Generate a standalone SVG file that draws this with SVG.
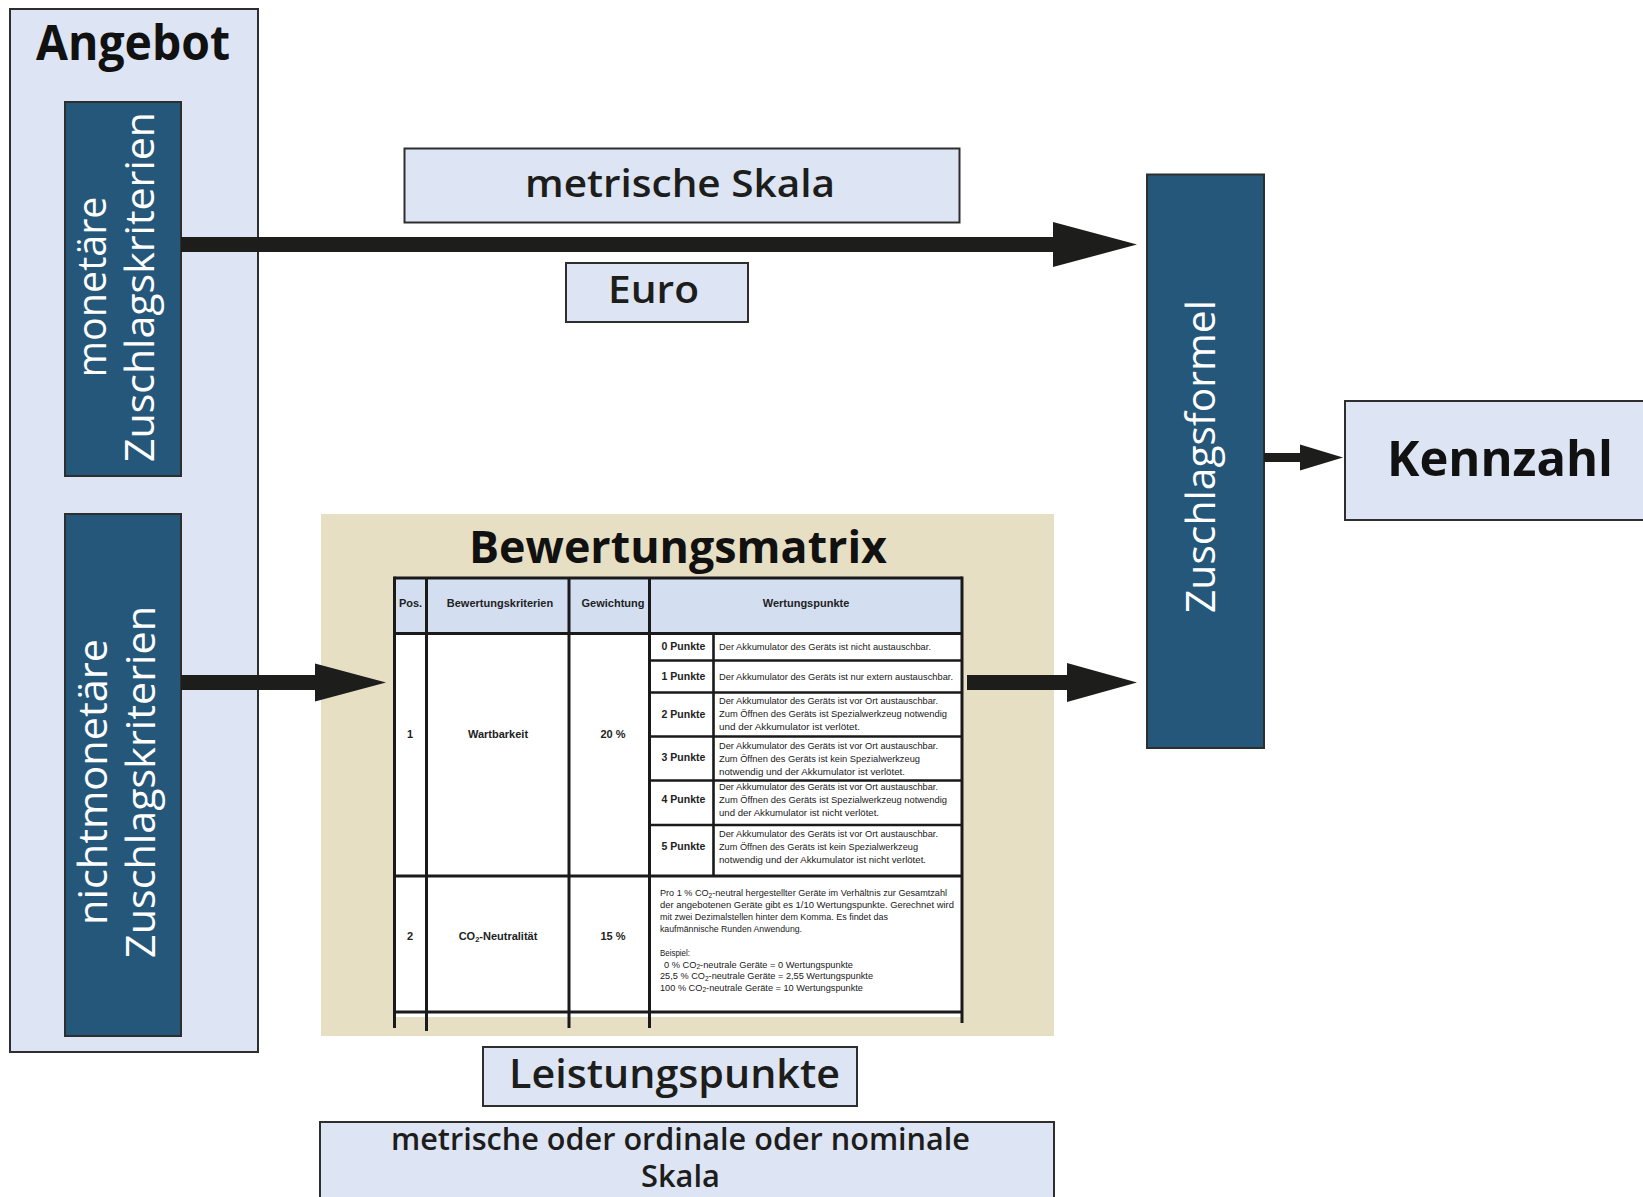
<svg xmlns="http://www.w3.org/2000/svg" width="1643" height="1197" viewBox="0 0 1643 1197">
<style>
.lb{fill:#dde4f4;stroke:#2e2e2e;stroke-width:2}
.dk{fill:#25577a;stroke:#2e2e2e;stroke-width:2}
.beige{fill:#e6dfc3}
.lbl{font-family:"Open Sans","Liberation Sans",sans-serif;font-weight:600;fill:#1d1d1b;text-anchor:middle}
.ttl{font-family:"Open Sans","Liberation Sans",sans-serif;font-weight:700;fill:#111;text-anchor:middle}
.vert{font-family:"Open Sans","Liberation Sans",sans-serif;font-weight:400;fill:#ffffff;font-size:40px;text-anchor:middle}
.tl{stroke:#1a1a1a;stroke-width:3;fill:none}
.ts{stroke:#1a1a1a;stroke-width:2.6;fill:none}
.th{font-family:"Liberation Sans",Arial,sans-serif;font-weight:700;font-size:11px;fill:#222;text-anchor:middle}
.tp{font-family:"Liberation Sans",Arial,sans-serif;font-weight:700;font-size:10.5px;fill:#222;text-anchor:middle}
.td{font-family:"Liberation Sans",Arial,sans-serif;font-weight:400;font-size:9px;fill:#1a1a1a}
.arrow{fill:#1d1d1b}
</style>

<g id="angebot">
<rect class="lb" x="10" y="9" width="248" height="1043"/>
<text class="ttl" x="133" y="60" font-size="48" textLength="194" lengthAdjust="spacingAndGlyphs">Angebot</text>
</g>

<g id="monetaere">
<rect class="dk" x="65" y="102" width="116" height="374"/>
<text class="vert" transform="translate(123,287) rotate(-90)"><tspan x="0" y="-17" textLength="181" lengthAdjust="spacingAndGlyphs">monetäre</tspan><tspan x="0" y="31" textLength="350" lengthAdjust="spacingAndGlyphs">Zuschlagskriterien</tspan></text>
</g>

<g id="nichtmonetaere">
<rect class="dk" x="65" y="514" width="116" height="522"/>
<text class="vert" transform="translate(123,782) rotate(-90)"><tspan x="0" y="-16" textLength="286" lengthAdjust="spacingAndGlyphs">nichtmonetäre</tspan><tspan x="0" y="32" textLength="352" lengthAdjust="spacingAndGlyphs">Zuschlagskriterien</tspan></text>
</g>

<g id="metrische-skala">
<rect class="lb" x="404.5" y="148.5" width="555" height="74"/>
<text class="lbl" x="680" y="197" font-size="38" textLength="310" lengthAdjust="spacingAndGlyphs">metrische Skala</text>
</g>

<g id="euro">
<rect class="lb" x="566" y="263" width="182" height="59"/>
<text class="lbl" x="653.5" y="303" font-size="37" textLength="91" lengthAdjust="spacingAndGlyphs">Euro</text>
</g>

<g id="zuschlagsformel">
<rect class="dk" x="1147" y="174.5" width="117" height="573.5"/>
<text class="vert" transform="translate(1205.5,456.5) rotate(-90)" x="0" y="9.5" textLength="313" lengthAdjust="spacingAndGlyphs">Zuschlagsformel</text>
</g>

<g id="kennzahl">
<rect class="lb" x="1345" y="401" width="320" height="119"/>
<text class="ttl" x="1500" y="476" font-size="48" textLength="226" lengthAdjust="spacingAndGlyphs">Kennzahl</text>
</g>

<g id="bewertungsmatrix">
<rect class="beige" x="321" y="514" width="733" height="522"/>
<text class="ttl" x="678" y="563" font-size="45" textLength="418" lengthAdjust="spacingAndGlyphs">Bewertungsmatrix</text>
<rect x="394.5" y="578" width="567.5" height="439" fill="#ffffff"/>
<rect x="394.5" y="578" width="567.5" height="55.5" fill="#d3dff1"/>
<g>
<path class="tl" d="M394.5,578 H962 M394.5,633.5 H962 M394.5,876 H962 M394.5,1012 H962"/>
<path class="tl" d="M394.5,576.5 V1028 M426.5,578 V1031 M569,578 V1028 M649.5,578 V1028 M962,576.5 V1023"/>
<path class="ts" d="M713.5,633.5 V876 M649.5,660.5 H962 M649.5,692.5 H962 M649.5,736.5 H962 M649.5,780.5 H962 M649.5,825 H962"/>
</g>
<text class="th" x="410.5" y="607">Pos.</text>
<text class="th" x="500" y="607">Bewertungskriterien</text>
<text class="th" x="613" y="607">Gewichtung</text>
<text class="th" x="806" y="607">Wertungspunkte</text>

<text class="th" x="410" y="738">1</text>
<text class="th" x="498" y="738">Wartbarkeit</text>
<text class="th" x="613" y="738">20 %</text>

<text class="tp" x="683.5" y="650">0 Punkte</text>
<text class="tp" x="683.5" y="680">1 Punkte</text>
<text class="tp" x="683.5" y="718">2 Punkte</text>
<text class="tp" x="683.5" y="761">3 Punkte</text>
<text class="tp" x="683.5" y="803">4 Punkte</text>
<text class="tp" x="683.5" y="850">5 Punkte</text>

<text class="td" x="719" y="650" textLength="212" lengthAdjust="spacingAndGlyphs">Der Akkumulator des Geräts ist nicht austauschbar.</text>
<text class="td" x="719" y="680" textLength="234" lengthAdjust="spacingAndGlyphs">Der Akkumulator des Geräts ist nur extern austauschbar.</text>

<text class="td" x="719" y="704" textLength="219" lengthAdjust="spacingAndGlyphs">Der Akkumulator des Geräts ist vor Ort austauschbar.</text>
<text class="td" x="719" y="717" textLength="228" lengthAdjust="spacingAndGlyphs">Zum Öffnen des Geräts ist Spezialwerkzeug notwendig</text>
<text class="td" x="719" y="730" textLength="141" lengthAdjust="spacingAndGlyphs">und der Akkumulator ist verlötet.</text>

<text class="td" x="719" y="749" textLength="219" lengthAdjust="spacingAndGlyphs">Der Akkumulator des Geräts ist vor Ort austauschbar.</text>
<text class="td" x="719" y="762" textLength="201" lengthAdjust="spacingAndGlyphs">Zum Öffnen des Geräts ist kein Spezialwerkzeug</text>
<text class="td" x="719" y="775" textLength="186" lengthAdjust="spacingAndGlyphs">notwendig und der Akkumulator ist verlötet.</text>

<text class="td" x="719" y="790" textLength="219" lengthAdjust="spacingAndGlyphs">Der Akkumulator des Geräts ist vor Ort austauschbar.</text>
<text class="td" x="719" y="803" textLength="228" lengthAdjust="spacingAndGlyphs">Zum Öffnen des Geräts ist Spezialwerkzeug notwendig</text>
<text class="td" x="719" y="816" textLength="160" lengthAdjust="spacingAndGlyphs">und der Akkumulator ist nicht verlötet.</text>

<text class="td" x="719" y="837" textLength="219" lengthAdjust="spacingAndGlyphs">Der Akkumulator des Geräts ist vor Ort austauschbar.</text>
<text class="td" x="719" y="850" textLength="199" lengthAdjust="spacingAndGlyphs">Zum Öffnen des Geräts ist kein Spezialwerkzeug</text>
<text class="td" x="719" y="863" textLength="207" lengthAdjust="spacingAndGlyphs">notwendig und der Akkumulator ist nicht verlötet.</text>

<text class="th" x="410" y="940">2</text>
<text class="th" x="498" y="940">CO<tspan font-size="7.5" dy="2">2</tspan><tspan dy="-2">-Neutralität</tspan></text>
<text class="th" x="613" y="940">15 %</text>

<text class="td" x="660" y="896" textLength="287" lengthAdjust="spacingAndGlyphs">Pro 1 % CO<tspan font-size="6.5" dy="1.5">2</tspan><tspan dy="-1.5">-neutral hergestellter Geräte im Verhältnis zur Gesamtzahl</tspan></text>
<text class="td" x="660" y="908" textLength="294" lengthAdjust="spacingAndGlyphs">der angebotenen Geräte gibt es 1/10 Wertungspunkte. Gerechnet wird</text>
<text class="td" x="660" y="920" textLength="228" lengthAdjust="spacingAndGlyphs">mit zwei Dezimalstellen hinter dem Komma. Es findet das</text>
<text class="td" x="660" y="932" textLength="142" lengthAdjust="spacingAndGlyphs">kaufmännische Runden Anwendung.</text>
<text class="td" x="660" y="956" textLength="30" lengthAdjust="spacingAndGlyphs">Beispiel:</text>
<text class="td" x="664" y="967.5" textLength="189" lengthAdjust="spacingAndGlyphs">0 % CO<tspan font-size="6.5" dy="1.5">2</tspan><tspan dy="-1.5">-neutrale Geräte = 0 Wertungspunkte</tspan></text>
<text class="td" x="660" y="979" textLength="213" lengthAdjust="spacingAndGlyphs">25,5 % CO<tspan font-size="6.5" dy="1.5">2</tspan><tspan dy="-1.5">-neutrale Geräte = 2,55 Wertungspunkte</tspan></text>
<text class="td" x="660" y="990.5" textLength="203" lengthAdjust="spacingAndGlyphs">100 % CO<tspan font-size="6.5" dy="1.5">2</tspan><tspan dy="-1.5">-neutrale Geräte = 10 Wertungspunkte</tspan></text>
</g>

<g id="leistungspunkte">
<rect class="lb" x="483" y="1047" width="374" height="59"/>
<text class="lbl" x="674.5" y="1088" font-size="40" textLength="331" lengthAdjust="spacingAndGlyphs">Leistungspunkte</text>
</g>

<g id="skala-bottom">
<rect class="lb" x="320" y="1122" width="734" height="100"/>
<text class="lbl" x="680.5" y="1150" font-size="30" textLength="579" lengthAdjust="spacingAndGlyphs">metrische oder ordinale oder nominale</text>
<text class="lbl" x="680.5" y="1187" font-size="30" textLength="79" lengthAdjust="spacingAndGlyphs">Skala</text>
</g>

<g id="connectors">
<path class="arrow" d="M181,237 H1053 V222 L1137,244.5 L1053,267 V252 H181 Z"/>
<path class="arrow" d="M181,675 H315 V663.5 L386,682.5 L315,701.5 V690 H181 Z"/>
<path class="arrow" d="M967,675 H1067 V663 L1137,682.5 L1067,702 V690 H967 Z"/>
<path class="arrow" d="M1264,453 H1300 V444.5 L1343,457.5 L1300,470.5 V462 H1264 Z"/>
</g>
</svg>
